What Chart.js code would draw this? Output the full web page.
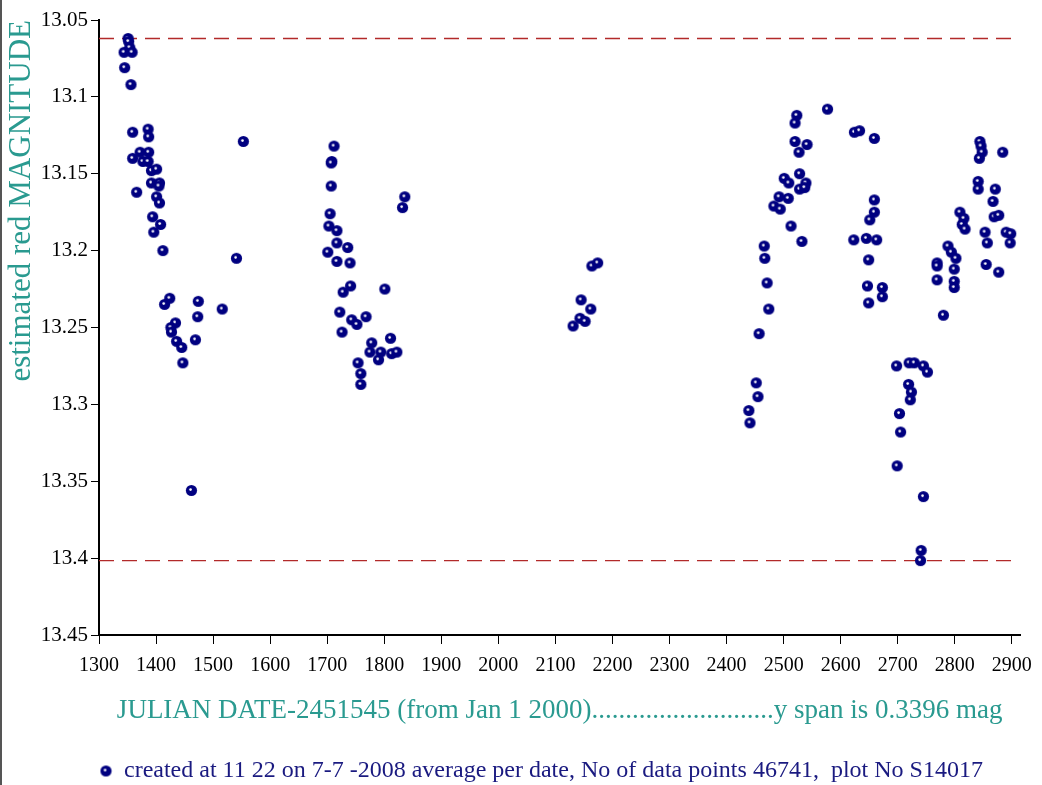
<!DOCTYPE html>
<html>
<head>
<meta charset="utf-8">
<script src="https://cdn.jsdelivr.net/npm/chart.js@4/dist/chart.umd.min.js"></script>
<style>
  html, body { margin: 0; padding: 0; background: #fff; }
  #marco { width: 1042px; height: 785px; border-left: 2px solid #555; box-sizing: border-box; }
</style>
</head>
<body>
<div id="marco"><canvas id="grafica" width="1040" height="785"></canvas></div>
<script>
// julian date - 2451545, one array per observing season
var jd_2003 = [1351,1352,1354,1344,1358,1345,1356,1359,1386,1387,1372,1359,1387,1377,1386,1392,1401,1392,1406,1405,1366,1401,1406,1394,1408,1396,1412,1541,1553,1424,1415,1474,1473,1516,1434,1426,1427,1436,1445,1469,1447,1462];
var mag_2003 = [13.062,13.064,13.068,13.071,13.071,13.081,13.092,13.123,13.121,13.126,13.136,13.140,13.136,13.142,13.142,13.148,13.147,13.156,13.156,13.158,13.162,13.165,13.169,13.178,13.183,13.188,13.200,13.205,13.129,13.231,13.235,13.233,13.243,13.238,13.247,13.250,13.253,13.259,13.263,13.258,13.273,13.356];

var jd_2004 = [1712,1708,1707,1707,1836,1832,1705,1703,1717,1717,1736,1701,1717,1740,1741,1728,1801,1722,1743,1752,1768,1726,1811,1778,1775,1794,1790,1813,1822,1754,1759,1759];
var mag_2004 = [13.132,13.142,13.143,13.158,13.165,13.172,13.176,13.184,13.187,13.195,13.198,13.201,13.207,13.208,13.223,13.227,13.225,13.240,13.245,13.248,13.243,13.253,13.257,13.260,13.266,13.266,13.271,13.267,13.266,13.273,13.280,13.287];

var jd_2005 = [2131,2143,2152,2145,2162,2164,2174];
var mag_2005 = [13.249,13.244,13.246,13.232,13.238,13.210,13.208];

var jd_2006 = [2439,2441,2452,2455,2457,2474,2471,2467,2466,2513,2532,2483,2494,2492,2508,2501,2509,2528,2539,2528,2537,2520,2541,2527,2523,2520,2577];
var mag_2006 = [13.304,13.312,13.286,13.295,13.254,13.238,13.221,13.205,13.197,13.184,13.194,13.171,13.173,13.165,13.166,13.153,13.156,13.150,13.156,13.160,13.159,13.129,13.131,13.136,13.112,13.117,13.108];

var jd_2007 = [2624,2633,2659,2623,2645,2663,2659,2659,2651,2649,2647,2673,2673,2649,2698,2703,2705,2699,2719,2720,2729,2724,2722,2745,2752,2745,2741,2740];
var mag_2007 = [13.123,13.122,13.127,13.193,13.192,13.193,13.167,13.175,13.180,13.206,13.223,13.224,13.230,13.234,13.275,13.306,13.318,13.340,13.287,13.273,13.273,13.292,13.297,13.275,13.279,13.360,13.395,13.4016];

var jd_2008 = [2769,2769,2769,2780,2788,2794,2802,2799,2799,2799,2809,2816,2813,2818,2844,2846,2848,2843,2841,2841,2871,2867,2869,2877,2853,2857,2890,2898,2897,2855,2877,2884];
var mag_2008 = [13.208,13.210,13.219,13.242,13.197,13.201,13.205,13.212,13.220,13.224,13.175,13.179,13.183,13.186,13.129,13.132,13.136,13.140,13.155,13.160,13.160,13.168,13.178,13.177,13.188,13.195,13.188,13.189,13.195,13.209,13.214,13.136];

var x_ticks = [1300,1400,1500,1600,1700,1800,1900,2000,2100,2200,2300,2400,2500,2600,2700,2800,2900];
var y_ticks = [13.05,13.1,13.15,13.2,13.25,13.3,13.35,13.4,13.45];

var titulo_y = "estimated red MAGNITUDE";
var titulo_x = "JULIAN DATE-2451545 (from Jan 1 2000)...........................y span is 0.3396 mag";
var pie = "created at 11 22 on 7-7 -2008 average per date, No of data points 46741,  plot No S14017";

var todos_jd = jd_2003.concat(jd_2004, jd_2005, jd_2006, jd_2007, jd_2008);
var todos_mag = mag_2003.concat(mag_2004, mag_2005, mag_2006, mag_2007, mag_2008);

var puntos = [];
for (var i = 0; i < todos_jd.length; i++) {
  puntos.push({ x: todos_jd[i], y: todos_mag[i] });
}
var mag_min = Math.min.apply(null, todos_mag);
var mag_max = Math.max.apply(null, todos_mag);

//MARCADOR (bolita azul con brillo)
var marcador = document.createElement("canvas");
marcador.width = 13;
marcador.height = 13;
var mc = marcador.getContext("2d");
mc.fillStyle = "#000080";
mc.beginPath();
mc.arc(6.5, 6.5, 5.6, 0, Math.PI * 2);
mc.fill();
mc.fillStyle = "#ffffff";
mc.beginPath();
mc.arc(5.6, 5.6, 1.3, 0, Math.PI * 2);
mc.fill();

var serif = "'Liberation Serif', 'Times New Roman', serif";
var teal = "#2a9a90";

function linea_guia(valor) {
  return {
    type: "line",
    label: "guia",
    data: [{ x: x_ticks[0], y: valor }, { x: x_ticks[x_ticks.length - 1], y: valor }],
    showLine: true,
    borderColor: "#b22a2a",
    borderWidth: 1.4,
    borderDash: [15, 8],
    pointRadius: 0,
    fill: false,
  };
}

var ctx = document.getElementById("grafica").getContext("2d");

var myChart = new Chart(ctx, {
  type: "scatter",
  data: {
    datasets: [
      {
        label: pie,
        data: puntos,
        pointStyle: marcador,
        pointRadius: 6,
        pointHoverRadius: 6,
      },
      linea_guia(mag_min),
      linea_guia(mag_max),
    ],
  },
  options: {
    responsive: false,
    animation: false,
    layout: {
      padding: { top: 20, right: 17, left: 0, bottom: -8 },
    },
    scales: {
      x: {
        type: "linear",
        min: 1300,
        max: 2915,
        afterFit: function (scale) {
          scale.height = 123;
        },
        afterBuildTicks: function (scale) {
          scale.ticks = x_ticks.map(function (v) { return { value: v }; });
        },
        ticks: {
          autoSkip: false,
          maxRotation: 0,
          color: "#000",
          padding: 10,
          font: { family: serif, size: 20 },
          callback: function (v) {
            return String(v);
          },
        },
        grid: {
          drawOnChartArea: false,
          drawTicks: true,
          tickLength: 9,
          color: "#000",
        },
        border: { color: "#000", width: 2 },
        title: {
          display: true,
          text: titulo_x,
          color: teal,
          font: { family: serif, size: 27 },
          padding: { top: 0, bottom: 31 },
        },
      },
      y: {
        type: "linear",
        reverse: true,
        min: 13.05,
        max: 13.45,
        weight: 0,
        afterFit: function (scale) {
          scale.width = 60;
        },
        afterBuildTicks: function (scale) {
          scale.ticks = y_ticks.map(function (v) { return { value: v }; });
        },
        ticks: {
          color: "#000",
          padding: 3,
          font: { family: serif, size: 21 },
          callback: function (v) {
            return String(Number(v.toFixed(2)));
          },
        },
        grid: {
          drawOnChartArea: false,
          drawTicks: true,
          tickLength: 8,
          color: "#000",
        },
        border: { color: "#000", width: 2 },
      },
      // eje solo para el titulo vertical, pegado arriba
      titulo: {
        type: "linear",
        position: "left",
        weight: 1,
        afterFit: function (scale) {
          scale.width = 37;
        },
        ticks: { display: false },
        grid: { display: false },
        border: { display: false },
        title: {
          display: true,
          text: titulo_y,
          align: "end",
          color: teal,
          font: { family: serif, size: 31 },
          padding: { top: 1, bottom: 0 },
        },
      },
    },
    plugins: {
      legend: {
        position: "bottom",
        fullSize: false,
        align: "start",
        labels: {
          usePointStyle: true,
          pointStyleWidth: 12,
          color: "#1a1a80",
          font: { family: serif, size: 24 },
          padding: 1,
          filter: function (item) {
            return item.datasetIndex === 0;
          },
        },
      },
      tooltip: { enabled: false },
    },
  },
});
</script>
</body>
</html>
